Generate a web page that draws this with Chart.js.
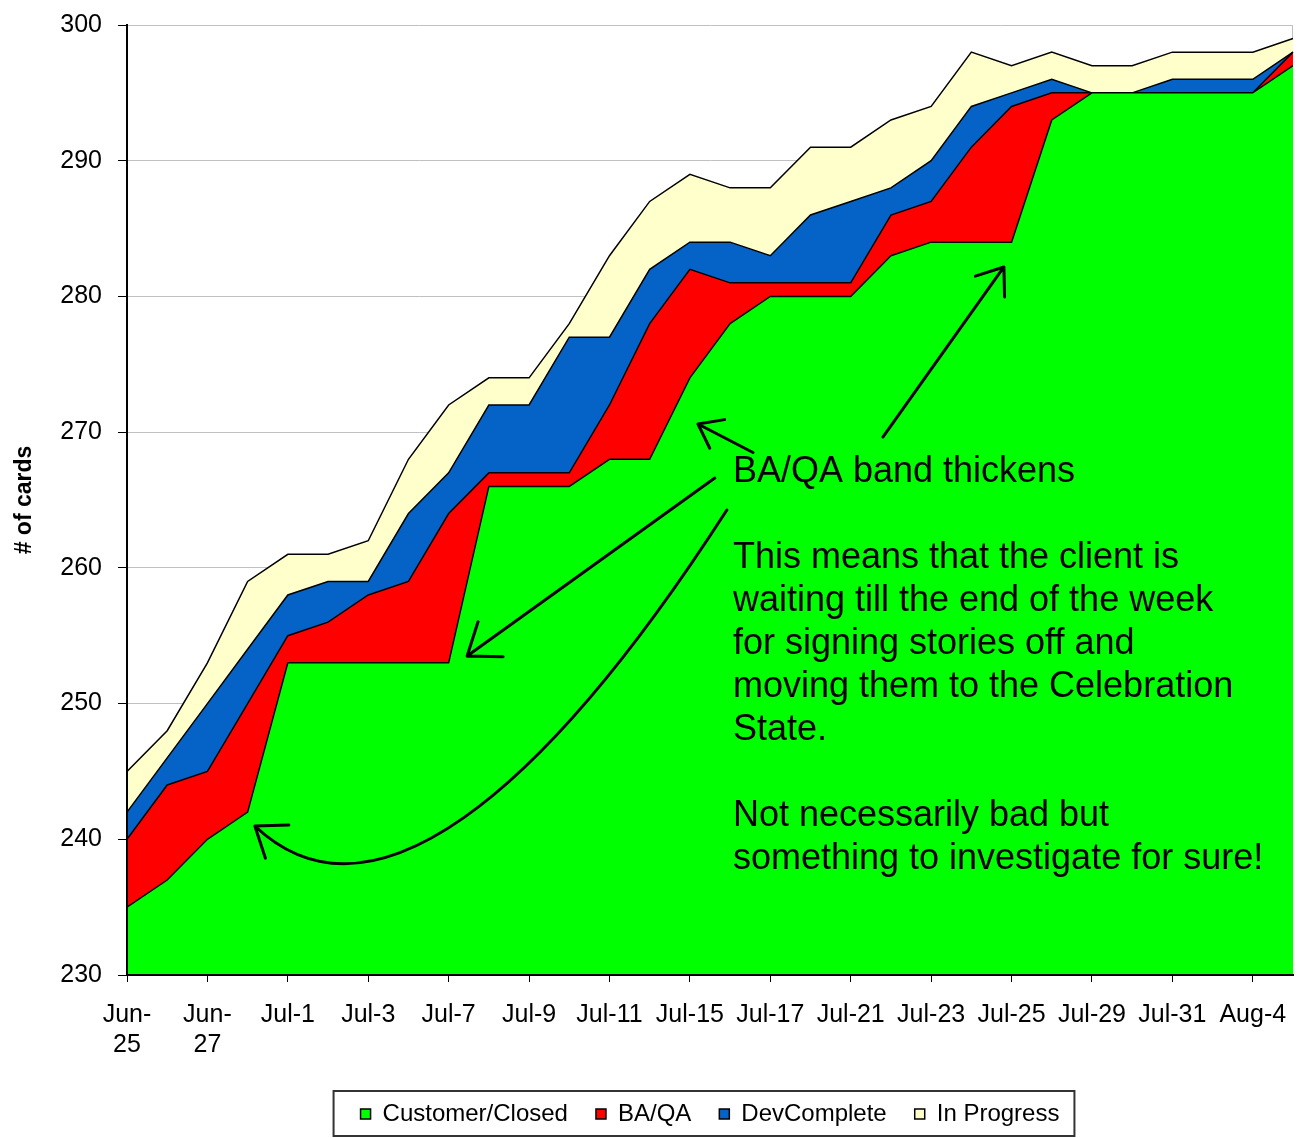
<!DOCTYPE html>
<html>
<head>
<meta charset="utf-8">
<script src="https://cdn.jsdelivr.net/npm/chart.js@4.4.1/dist/chart.umd.min.js"></script>
<style>
  html, body { margin: 0; padding: 0; background: #fff; }
  #wrap { width: 1298px; height: 1138px; position: relative; }
</style>
</head>
<body>
<div id="wrap"><canvas id="chart"></canvas></div>
<script>
// Dias do quadro (no eixo so aparece um a cada dois)
const dias = ['Jun-25', 'Jun-26', 'Jun-27', 'Jun-28', 'Jul-1', 'Jul-2', 'Jul-3', 'Jul-5', 'Jul-7', 'Jul-8',
  'Jul-9', 'Jul-10', 'Jul-11', 'Jul-12', 'Jul-15', 'Jul-16', 'Jul-17', 'Jul-18', 'Jul-21', 'Jul-22',
  'Jul-23', 'Jul-24', 'Jul-25', 'Jul-26', 'Jul-29', 'Jul-30', 'Jul-31', 'Aug-1', 'Aug-4', 'Aug-5'];

// Cartoes em cada estado (empilhados)
const customerClosed = [235, 237, 240, 242, 253, 253, 253, 253, 253, 266, 266, 266, 268, 268, 274,
  278, 280, 280, 280, 283, 284, 284, 284, 293, 295, 295, 295, 295, 295, 297];
const baQa = [5, 7, 5, 8, 2, 3, 5, 6, 11, 1, 1, 1, 4, 10, 8, 3, 1, 1, 1, 3, 3, 7, 10, 2, 0, 0, 0, 0, 0, 1];
const devComplete = [2, 2, 5, 4, 3, 3, 1, 5, 3, 5, 5, 10, 5, 4, 2, 3, 2, 5, 6, 2, 3, 3, 1, 1, 0, 0, 1, 1, 1, 0];
const inProgress = [3, 2, 3, 5, 3, 2, 3, 4, 5, 2, 2, 1, 6, 5, 5, 4, 5, 5, 4, 5, 4, 4, 2, 2, 2, 2, 2, 2, 2, 1];

// Eixo y
const yMin = 230;
const yMax = 300;
const yStep = 10;

// Texto da anotacao, ancorado em [indice do dia, valor]
const noteAnchor = [15.07, 266.33];
const noteLines = [
  'BA/QA band thickens',
  '',
  'This means that the client is',
  'waiting till the end of the week',
  'for signing stories off and',
  'moving them to the Celebration',
  'State.',
  '',
  'Not necessarily bad but',
  'something to investigate for sure!'
];

// Setas retas e a curva, tambem em [indice, valor]
const setas = [
  { from: [15.57, 268.5], to: [14.20, 270.60], head: 27 },
  { from: [14.62, 266.62], to: [8.46, 253.50], head: 36 },
  { from: [18.80, 269.64], to: [21.81, 282.17], head: 30 }
];
const curva = [[14.92, 264.26], [10.27, 242.89], [6.04, 232.95], [3.18, 240.98]];

document.addEventListener('DOMContentLoaded', function() {
  const ctx = document.getElementById('chart').getContext('2d');
  Chart.defaults.font.family = '"Liberation Sans", Arial, sans-serif';
  Chart.defaults.color = '#000';

  function ponta(c, x1, y1, x2, y2, len) {
    const ang = Math.atan2(y1 - y2, x1 - x2);
    [ang - 0.64, ang + 0.64].forEach(function(a) {
      c.moveTo(x2, y2);
      c.lineTo(x2 + len * Math.cos(a), y2 + len * Math.sin(a));
    });
  }

  // Borda da area do grafico e anotacoes por cima das areas
  const notas = {
    id: 'notas',
    beforeDatasetsDraw(chart) {
      const a = chart.chartArea, c = chart.ctx;
      c.save();
      c.strokeStyle = '#c0c0c0';
      c.lineWidth = 1;
      c.beginPath();
      c.moveTo(a.right - 0.5, a.top);
      c.lineTo(a.right - 0.5, a.bottom);
      c.stroke();
      c.restore();
    },
    afterDatasetsDraw(chart) {
      const x = chart.scales.x, y = chart.scales.y, c = chart.ctx;
      const p = pt => [x.getPixelForValue(pt[0]), y.getPixelForValue(pt[1])];
      c.save();
      c.fillStyle = '#000';
      c.font = '36px "Liberation Sans", Arial, sans-serif';
      c.textBaseline = 'alphabetic';
      const [tx, ty] = p(noteAnchor);
      noteLines.forEach((line, i) => c.fillText(line, tx, ty + i * 43));

      c.strokeStyle = '#000';
      c.lineWidth = 3;
      c.lineCap = 'round';
      c.lineJoin = 'round';
      setas.forEach(function(s) {
        const [x1, y1] = p(s.from), [x2, y2] = p(s.to);
        c.beginPath();
        c.moveTo(x1, y1);
        c.lineTo(x2, y2);
        ponta(c, x1, y1, x2, y2, s.head);
        c.stroke();
      });

      const q = curva.map(p);
      c.beginPath();
      c.moveTo(q[0][0], q[0][1]);
      c.bezierCurveTo(q[1][0], q[1][1], q[2][0], q[2][1], q[3][0], q[3][1]);
      // direcao da ponta tirada de um ponto perto do fim da curva
      const t = 0.9, u = 1 - t;
      const bx = u * u * u * q[0][0] + 3 * u * u * t * q[1][0] + 3 * u * t * t * q[2][0] + t * t * t * q[3][0];
      const by = u * u * u * q[0][1] + 3 * u * u * t * q[1][1] + 3 * u * t * t * q[2][1] + t * t * t * q[3][1];
      ponta(c, bx, by, q[3][0], q[3][1], 34);
      c.stroke();
      c.restore();
    }
  };

  // Caixa em volta da legenda
  const caixaLegenda = {
    id: 'caixaLegenda',
    afterDraw(chart) {
      const boxes = chart.legend.legendHitBoxes;
      if (!boxes || !boxes.length) return;
      const first = boxes[0], last = boxes[boxes.length - 1];
      const cy = first.top + first.height / 2;
      const left = first.left - 27;
      const right = last.left + last.width + 15;
      const c = chart.ctx;
      c.save();
      c.strokeStyle = '#333';
      c.lineWidth = 2;
      c.strokeRect(left, cy - 23, right - left, 45);
      c.restore();
    }
  };

  new Chart(ctx, {
    type: 'line',
    data: {
      labels: dias,
      datasets: [{
        label: 'Customer/Closed',
        data: customerClosed,
        backgroundColor: '#00ff00',
        fill: 'origin'
      }, {
        label: 'BA/QA',
        data: baQa,
        backgroundColor: '#ff0000',
        fill: '-1'
      }, {
        label: 'DevComplete',
        data: devComplete,
        backgroundColor: '#0563c8',
        fill: '-1'
      }, {
        label: 'In Progress',
        data: inProgress,
        backgroundColor: '#ffffcc',
        fill: '-1'
      }]
    },
    options: {
      responsive: true,
      maintainAspectRatio: false,
      animation: false,
      layout: { padding: { left: 0, top: 25, right: 5, bottom: 2 } },
      elements: {
        point: { radius: 0, hoverRadius: 0 },
        line: { tension: 0, borderColor: '#000', borderWidth: 1.5 }
      },
      plugins: {
        tooltip: { enabled: false },
        legend: {
          position: 'bottom',
          fullSize: false,
          labels: {
            boxWidth: 10,
            boxHeight: 10,
            padding: 28,
            color: '#000',
            font: { size: 24 }
          }
        }
      },
      scales: {
        x: {
          afterFit: scale => {
            scale.height = 99;
            scale.paddingLeft = 0;
            scale.paddingRight = 0;
          },
          grid: {
            drawOnChartArea: false,
            tickLength: 7,
            tickColor: c => (c.index % 2 === 0 ? '#000' : 'rgba(0,0,0,0)')
          },
          border: { color: '#000', width: 2, z: 1 },
          ticks: {
            autoSkip: false,
            maxRotation: 0,
            padding: 18,
            color: '#000',
            font: { size: 25 },
            callback: function(value, index) {
              if (index % 2 !== 0) return '';
              const label = this.getLabelForValue(value);
              if (label.startsWith('Jun')) {
                const parts = label.split('-');
                return [parts[0] + '-', parts[1]];
              }
              return label;
            }
          }
        },
        y: {
          stacked: true,
          min: yMin,
          max: yMax,
          afterFit: scale => {
            scale.width = 127;
            scale.paddingTop = 0;
            scale.paddingBottom = 0;
          },
          grid: { color: '#c0c0c0', tickColor: '#000', tickLength: 9 },
          border: { color: '#000', width: 2, z: 1 },
          ticks: { stepSize: yStep, padding: 16, color: '#000', font: { size: 25 } },
          title: {
            display: true,
            text: '# of cards',
            color: '#000',
            padding: { top: 11, bottom: 0 },
            font: { size: 23, weight: 'bold' }
          }
        }
      }
    },
    plugins: [notas, caixaLegenda]
  });
});
</script>
</body>
</html>
